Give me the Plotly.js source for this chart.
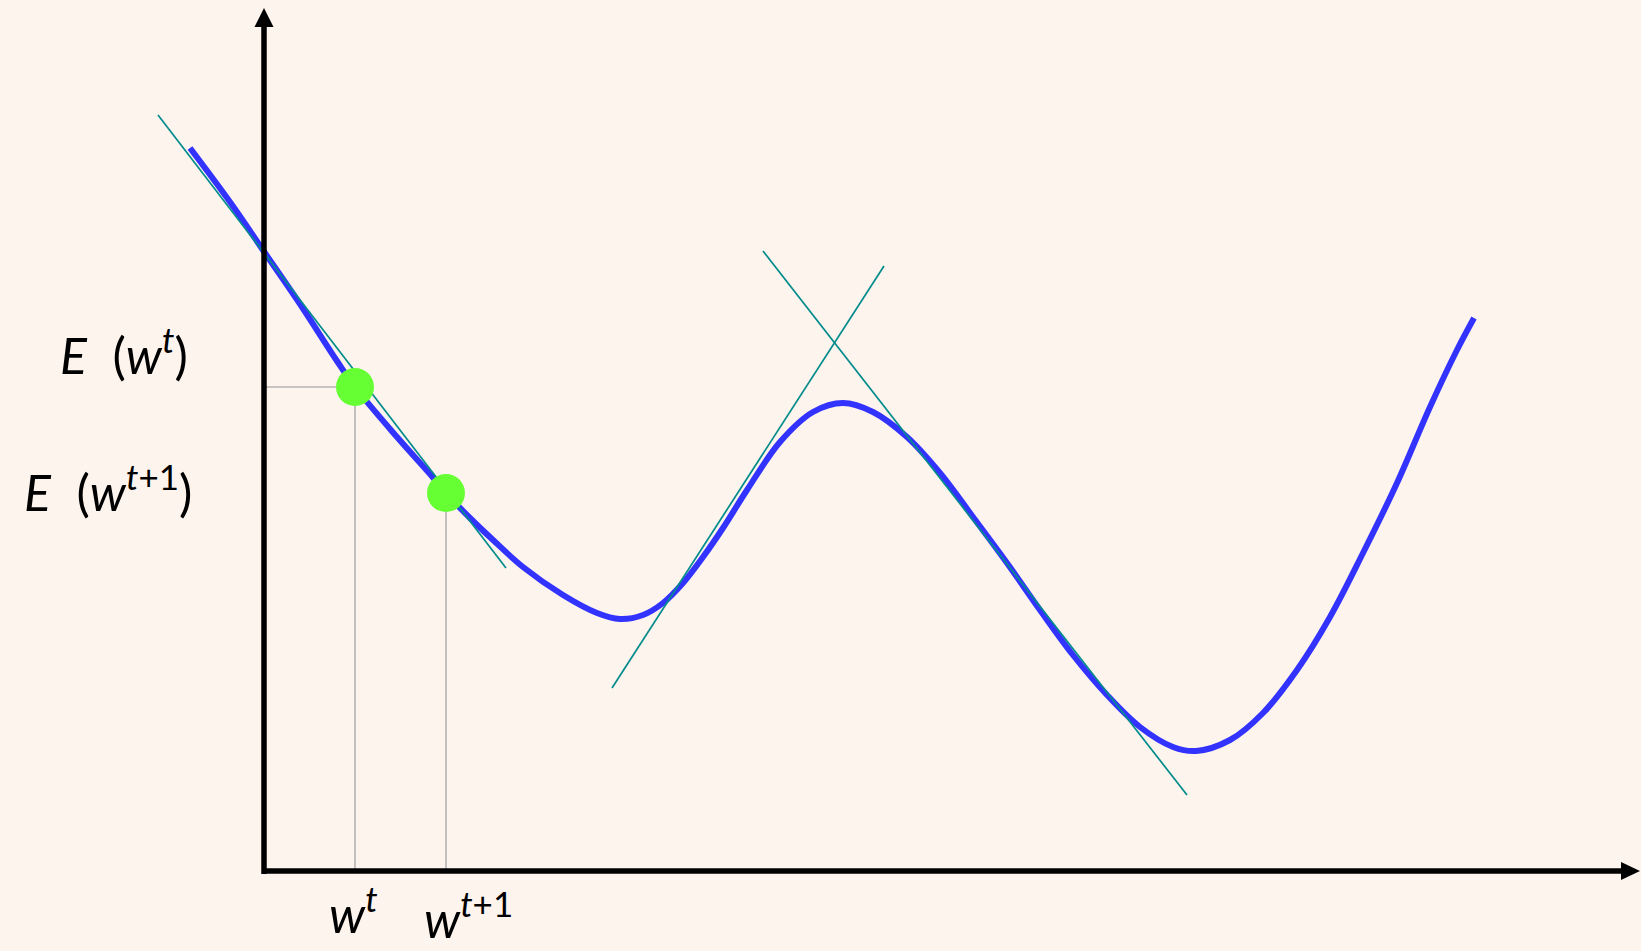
<!DOCTYPE html>
<html>
<head>
<meta charset="utf-8">
<script src="https://cdn.plot.ly/plotly-3.0.1.min.js"></script>
<style>
  html, body { margin: 0; padding: 0; background: #fdf4ee; }
  #chart { width: 1641px; height: 951px; }
</style>
</head>
<body>
<div id="chart"></div>
<script>
// Error curve E(w) (horizontal = w, vertical = E in screen units; the E axis runs downward)
const curveW = [190, 230, 265, 300, 337, 355, 397, 430, 446, 471, 492, 523, 563, 597, 620, 643, 663, 683, 703, 723, 747, 780, 813, 843, 873, 907, 940, 973, 1007, 1040, 1073, 1107, 1140, 1173, 1196, 1230, 1263, 1297, 1330, 1363, 1397, 1430, 1457, 1474];
const curveE = [148, 202, 253, 304, 361, 387, 437, 474, 493, 519, 539, 567, 595, 613, 619, 615, 603, 583, 557, 528, 490, 442, 412, 403, 412, 437, 473, 517, 563, 610, 655, 695, 727, 747, 751, 740, 713, 670, 617, 553, 483, 407, 350, 318];

// Tangent segments (start/end)
const tangent1W = [158, 506];   const tangent1E = [115, 568];
const tangent2W = [612, 884];   const tangent2E = [688, 266];
const tangent3W = [763, 1187];  const tangent3E = [251, 795];

// Gradient-descent steps w^t and w^{t+1}
const stepW = [355, 446];
const stepE = [387, 493];
const stepLabelsE = ['<i>E</i>  (<i>w</i><sup><i>t</i></sup>)', '<i>E</i>  (<i>w</i><sup><i>t</i>+1</sup>)'];
const stepLabelsW = ['<i>w</i><sup><i>t</i></sup>', '<i>w</i><sup><i>t</i>+1</sup>'];

// Axes geometry
const originW = 264, originE = 871;
const axisTopE = 8, axisRightW = 1640;

const BG = '#fdf4ee';
const TEAL = '#008b8b';
const BLUE = '#3333ff';
const GREEN = '#66ff33';
const GRAY = '#b3b3b3';

const traces = [];
traces.push({x: curveW, y: curveE, mode: 'lines', line: {color: BLUE, width: 6, shape: 'spline', smoothing: 1}, hoverinfo: 'skip'});
[[tangent1W, tangent1E], [tangent2W, tangent2E], [tangent3W, tangent3E]].forEach(([xs, ys]) => {
  traces.push({x: xs, y: ys, mode: 'lines', line: {color: TEAL, width: 1.7}, hoverinfo: 'skip'});
});
// guide lines
traces.push({x: [originW, stepW[0]], y: [stepE[0], stepE[0]], mode: 'lines', line: {color: GRAY, width: 1.6}, hoverinfo: 'skip'});
stepW.forEach((w, i) => {
  traces.push({x: [w, w], y: [stepE[i], originE], mode: 'lines', line: {color: GRAY, width: 1.6}, hoverinfo: 'skip'});
});
traces.push({x: stepW, y: stepE, mode: 'markers', marker: {color: GREEN, size: 38}, hoverinfo: 'skip'});

const head = 19;
const shapes = [
  {type: 'line', xref: 'x', yref: 'y', x0: originW, x1: originW, y0: originE + 3, y1: axisTopE + head, line: {color: '#000', width: 5.5}},
  {type: 'line', xref: 'x', yref: 'y', x0: originW - 2, x1: axisRightW - head, y0: originE, y1: originE, line: {color: '#000', width: 5.5}},
  {type: 'path', xref: 'x', yref: 'y', path: `M ${originW - 9.5} ${axisTopE + head} L ${originW + 9.5} ${axisTopE + head} L ${originW} ${axisTopE} Z`, fillcolor: '#000', line: {width: 0}},
  {type: 'path', xref: 'x', yref: 'y', path: `M ${axisRightW - head} ${originE - 9} L ${axisRightW - head} ${originE + 9} L ${axisRightW} ${originE} Z`, fillcolor: '#000', line: {width: 0}}
];

const FONT = {family: 'Lato, "Open Sans", sans-serif', size: 50, color: '#000'};
const annotations = [
  {x: 58, y: 351, xref: 'x', yref: 'y', text: stepLabelsE[0], showarrow: false, xanchor: 'left', yanchor: 'middle', font: FONT},
  {x: 22, y: 488, xref: 'x', yref: 'y', text: stepLabelsE[1], showarrow: false, xanchor: 'left', yanchor: 'middle', font: FONT},
  {x: 328, y: 945, xref: 'x', yref: 'y', text: stepLabelsW[0], showarrow: false, xanchor: 'left', yanchor: 'bottom', borderpad: 0, font: FONT},
  {x: 423, y: 950, xref: 'x', yref: 'y', text: stepLabelsW[1], showarrow: false, xanchor: 'left', yanchor: 'bottom', borderpad: 0, font: FONT}
];

const layout = {
  width: 1641, height: 951,
  margin: {l: 0, r: 0, t: 0, b: 0, pad: 0},
  paper_bgcolor: BG, plot_bgcolor: BG,
  showlegend: false,
  xaxis: {range: [0, 1641], visible: false, fixedrange: true},
  yaxis: {range: [951, 0], visible: false, fixedrange: true},
  shapes: shapes,
  annotations: annotations
};

Plotly.newPlot('chart', traces, layout, {displayModeBar: false, staticPlot: true});
</script>
</body>
</html>
